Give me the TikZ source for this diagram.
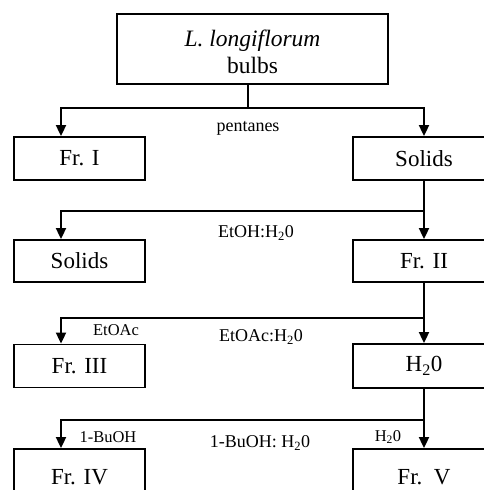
\documentclass[tikz,border=0pt]{standalone}
\usepackage{fontspec}
\setmainfont{Liberation Serif}
\usetikzlibrary{arrows.meta}
\begin{document}
\begin{tikzpicture}[x=1pt,y=-1pt,
  box/.style={draw,line width=1.8pt,inner sep=0pt,font=\fontsize{23}{27}\selectfont},
  lbox/.style={box,minimum width=131pt,minimum height=43pt},
  rbox/.style={box,minimum width=142pt,minimum height=44pt},
  ln/.style={line width=1.8pt},
  arr/.style={ln,-{Triangle[width=10pt,length=11pt]}},
  lab/.style={font=\fontsize{18}{20}\selectfont,inner sep=0pt},
  slab/.style={font=\fontsize{16.5}{18}\selectfont,inner sep=0pt}]
\clip (0,0) rectangle (484,490);
\fill[white] (0,0) rectangle (484,490);
% nodes
\node[box,minimum width=271pt,minimum height=70pt] (top) at (252.5,49) {};
\node[font=\fontsize{23.5}{27.5}\selectfont,align=center,inner sep=0pt] (toptext) at (252.5,52) {\textit{L. longiflorum}\\bulbs};
\node[lbox] (fr1) at (79.5,158.5) {Fr. I};
\node[rbox,minimum height=43pt] (sol1) at (424,158.5) {Solids};
\node[lbox,minimum height=42pt] (sol2) at (79.5,261) {Solids};
\node[rbox,minimum height=42pt] (fr2) at (424,261) {Fr. II};
\node[lbox] (fr3) at (79.5,366) {Fr. III};
\node[rbox] (h2o) at (424,366) {H\textsubscript{2}0};
\node[lbox,minimum height=56pt] (fr4) at (79.5,477) {Fr. IV};
\node[rbox,minimum height=56pt] (fr5) at (424,477) {Fr.\ \ V};
% junctions
\coordinate (j1) at (248,108);
\coordinate (l1) at (61,108);
\coordinate (r1) at (424,108);
\coordinate (j2) at (424,211);
\coordinate (l2) at (61,211);
\coordinate (j3) at (424,318);
\coordinate (l3) at (61,318);
\coordinate (j4) at (424,420);
\coordinate (l4) at (61,420);
% connectors
\draw[ln] ([xshift=-4.5pt]top.south) -- (j1);
\draw[arr] (j1) -- (l1) -- (l1 |- fr1.north);
\draw[arr] (j1) -- (r1) -- (sol1.north);
\draw[arr] (sol1.south) -- (fr2.north);
\draw[arr] (j2) -- (l2) -- (l2 |- sol2.north);
\draw[arr] (fr2.south) -- (h2o.north);
\draw[arr] (j3) -- (l3) -- (l3 |- fr3.north);
\draw[arr] (h2o.south) -- (fr5.north);
\draw[arr] (j4) -- (l4) -- (l4 |- fr4.north);
% labels
\node[lab] (t1) at (248,128) {pentanes};
\node[lab] (t2) at (256,233) {EtOH:H\textsubscript{2}0};
\node[slab] (t3) at (116,330) {EtOAc};
\node[lab] (t4) at (261,337) {EtOAc:H\textsubscript{2}0};
\node[slab] (t5) at (108,437) {1-BuOH};
\node[lab] (t6) at (260,443) {1-BuOH: H\textsubscript{2}0};
\node[slab] (t7) at (388,437) {H\textsubscript{2}0};
\end{tikzpicture}
\end{document}
